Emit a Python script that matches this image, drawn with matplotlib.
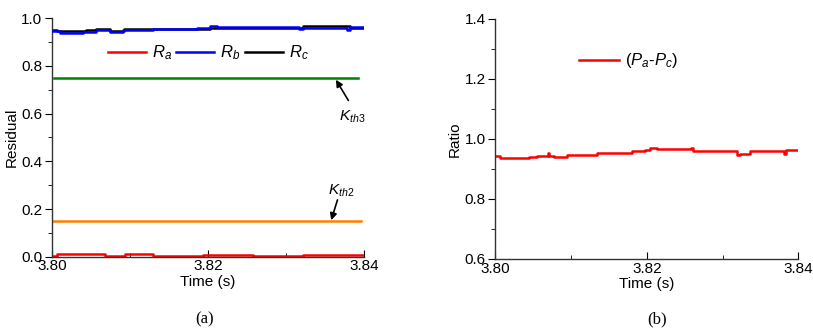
import matplotlib
matplotlib.use("Agg")
import matplotlib.pyplot as plt
from matplotlib.ticker import MultipleLocator, FormatStrFormatter

plt.rcParams['font.family'] = ['Liberation Sans', 'DejaVu Sans']
plt.rcParams['mathtext.fontset'] = 'custom'
plt.rcParams['mathtext.rm'] = 'Liberation Sans'
plt.rcParams['mathtext.it'] = 'Liberation Sans:italic'

# ---- data (panel a) ----
t_ra = [3.8000, 3.8006, 3.8068, 3.8094, 3.8130, 3.8194, 3.8258, 3.8322, 3.8400]
ra   = [0.003, 0.0126, 0.004, 0.010, 0.002, 0.006, 0.002, 0.006, 0.006]

t_rb = [3.8000, 3.8010, 3.8040, 3.8057, 3.8074, 3.8091, 3.8130, 3.8186, 3.8203, 3.8211, 3.8317, 3.8322, 3.8378, 3.8382, 3.8400]
rb   = [0.948, 0.937, 0.944, 0.951, 0.941, 0.952, 0.956, 0.960, 0.968, 0.964, 0.953, 0.960, 0.952, 0.964, 0.964]

t_rc = [3.8000, 3.8006, 3.8043, 3.8057, 3.8074, 3.8092, 3.8130, 3.8203, 3.8322, 3.8382, 3.8400]
rc   = [0.950, 0.946, 0.950, 0.953, 0.948, 0.953, 0.955, 0.960, 0.966, 0.960, 0.960]

t_k3 = [3.8002, 3.8392]
k3   = [0.75, 0.75]
t_k2 = [3.8000, 3.8396]
k2   = [0.15, 0.15]

# ---- data (panel b) ----
t_ratio = [3.8000, 3.8006, 3.8044, 3.8055, 3.8069, 3.8071, 3.8077, 3.8094, 3.8134,
           3.8180, 3.8198, 3.8204, 3.8213, 3.8258, 3.8261, 3.8319, 3.8323, 3.8336,
           3.8381, 3.8384, 3.8400]
ratio   = [0.944, 0.935, 0.941, 0.944, 0.953, 0.944, 0.941, 0.945, 0.954,
           0.959, 0.964, 0.971, 0.965, 0.970, 0.960, 0.948, 0.951, 0.959,
           0.950, 0.964, 0.964]

fig = plt.figure(figsize=(8.13, 3.35), dpi=100)
ax1 = fig.add_axes([0.064, 0.2337, 0.3837, 0.712])
ax2 = fig.add_axes([0.6092, 0.2269, 0.3728, 0.7164])

ax1.plot(t_ra, ra, color='#ff0000', lw=1.8, drawstyle='steps-post', label='$R_a$')
ax1.plot(t_rc, rc, color='black', lw=1.8, drawstyle='steps-post', zorder=2)
ax1.plot(t_rb, rb, color='#0000ff', lw=1.8, drawstyle='steps-post', label='$R_b$', zorder=3)
ax1.plot([], [], color='black', lw=1.8, label='$R_c$')
ax1.plot(t_k3, k3, color='#008000', lw=1.8)
ax1.plot(t_k2, k2, color='#ff8000', lw=1.8)

ax2.plot(t_ratio, ratio, color='#ff0000', lw=1.8, drawstyle='steps-post', label='$(P_a$-$P_c)$')

for ax in (ax1, ax2):
    ax.set_xlim(3.80, 3.84)
    ax.spines['top'].set_visible(False)
    ax.spines['right'].set_visible(False)
    for s in ('left', 'bottom'):
        ax.spines[s].set_color('#333333')
        ax.spines[s].set_linewidth(1.0)
    ax.xaxis.set_major_locator(MultipleLocator(0.02))
    ax.xaxis.set_minor_locator(MultipleLocator(0.01))
    ax.xaxis.set_major_formatter(FormatStrFormatter('%.2f'))
    ax.yaxis.set_major_formatter(FormatStrFormatter('%.1f'))
    ax.tick_params(axis='x', which='both', direction='in', labelsize=11, pad=2)
    ax.tick_params(axis='x', which='major', length=5)
    ax.tick_params(axis='x', which='minor', length=3)
    ax.tick_params(axis='y', which='both', direction='out', labelsize=11, pad=2)
    ax.tick_params(axis='y', which='major', length=5)
    ax.tick_params(axis='y', which='minor', length=3)
    ax.set_xlabel('Time (s)', fontsize=11, labelpad=1)

ax1.set_ylim(0.0, 1.0)
ax1.yaxis.set_major_locator(MultipleLocator(0.2))
ax1.yaxis.set_minor_locator(MultipleLocator(0.1))
ax1.set_ylabel('Residual', fontsize=11, labelpad=2)

ax2.set_ylim(0.6, 1.4)
ax2.yaxis.set_major_locator(MultipleLocator(0.2))
ax2.yaxis.set_minor_locator(MultipleLocator(0.1))
ax2.set_ylabel('Ratio', fontsize=11, labelpad=2)

ax1.legend(loc='center', bbox_to_anchor=(0.5, 0.855), ncol=3, frameon=False,
           fontsize=12, handlelength=2.3, handletextpad=0.35, columnspacing=0.25)
ax2.legend(loc='center', bbox_to_anchor=(0.44, 0.825), frameon=False,
           fontsize=12, handlelength=2.4, handletextpad=0.4)

arrow = dict(arrowstyle='-|>', color='black', lw=1.2, shrinkA=0, shrinkB=0,
             mutation_scale=10)
ax1.annotate('', xy=(3.8364, 0.742), xytext=(3.8380, 0.655), arrowprops=arrow,
             annotation_clip=False)
ax1.text(3.8368, 0.585, '$K_{th3}$', fontsize=11, ha='left', va='center')
ax1.annotate('', xy=(3.8358, 0.153), xytext=(3.8366, 0.238), arrowprops=arrow,
             annotation_clip=False)
ax1.text(3.8354, 0.275, '$K_{th2}$', fontsize=11, ha='left', va='center')

fig.text(0.252, 0.035, '(a)', fontsize=12, family=['Liberation Serif', 'DejaVu Serif'], ha='center')
fig.text(0.808, 0.035, '(b)', fontsize=12, family=['Liberation Serif', 'DejaVu Serif'], ha='center')

fig.savefig('out.png', dpi=100)
